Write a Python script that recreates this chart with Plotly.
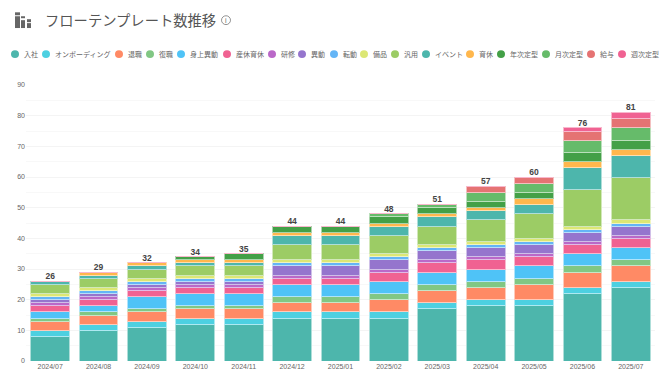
import plotly.graph_objects as go

months = ["2024/07","2024/08","2024/09","2024/10","2024/11","2024/12","2025/01","2025/02","2025/03","2025/04","2025/05","2025/06","2025/07"]
totals = [26,29,32,34,35,44,44,48,51,57,60,76,81]

nyusha    = [8,10,11,12,12,14,14,14,17,18,18,22,24]
onboard   = [2,2,2,2,2,2,2,2,2,2,2,2,2]
taishoku  = [3,3,3,3,3,3,3,4,4,4,5,5,5]
fukushoku = [1,1,1,1,1,2,2,2,2,2,2,2,2]
mishin    = [2,2,4,4,4,4,4,4,4,4,4,4,4]
sankyu    = [2,2,2,2,2,2,2,3,3,3,3,3,3]
kenshu    = [1,1,1,1,1,1,1,1,1,1,1,1,1]
ido       = [1,1,1,1,1,3,3,3,3,3,3,3,3]
tendo     = [1,1,1,1,1,1,1,1,1,1,1,1,1]
bihin     = [1,1,1,1,1,1,1,1,1,1,1,1,1]
hanyo     = [3,3,3,3,3,5,5,6,6,7,8,12,14]
event     = [1,1,1,1,1,3,3,3,3,3,3,7,7]
ikukyu    = [0,1,1,1,1,1,1,1,1,1,2,2,2]
nenji     = [0,0,0,1,2,2,2,2,2,2,2,3,3]
getsuji   = [0,0,0,0,0,0,0,1,1,3,3,4,4]
kyuyo     = [0,0,0,0,0,0,0,0,0,2,2,3,3]
shuji     = [0,0,0,0,0,0,0,0,0,0,0,1,2]

names = ["入社","オンボーディング","退職","復職","身上異動","産休育休","研修","異動","転動","備品","汎用","イベント","育休","年次定型","月次定型","給与","週次定型"]
values = [nyusha,onboard,taishoku,fukushoku,mishin,sankyu,kenshu,ido,tendo,bihin,hanyo,event,ikukyu,nenji,getsuji,kyuyo,shuji]
colors = ["#4DB6AC","#4DD0E1","#FF8A65","#81C784","#4FC3F7","#F06292","#BA68C8","#9575CD","#64B5F6","#DCE775","#9CCC65","#4DB6AC","#FFB74D","#43A047","#66BB6A","#E57373","#F06292"]
legend_x = [15,46,119,150,181,227,272,302,334,364,395,426,470,501,546,591,622]

W, H = 670, 382
L, R, T, B = 26, 15, 85, 16
FONT = "Noto Sans CJK JP, Noto Sans, sans-serif"
def light(c, a=0.55):
    r,g,b = int(c[1:3],16),int(c[3:5],16),int(c[5:7],16)
    return "rgb(%d,%d,%d)" % tuple(int(v*(1-a)+255*a) for v in (r,g,b))

fig = go.Figure()
for n,v,c in zip(names,values,colors):
    fig.add_bar(x=months,y=v,name=n,marker=dict(color=c,line=dict(color=light(c),width=1)))
fig.add_scatter(x=months,y=totals,mode="text",text=[str(t) for t in totals],textposition="top center",
                textfont=dict(size=8.5,color="#444",family="Liberation Sans, Arial",weight="bold"),cliponaxis=False)

px = lambda x: (x-L)/(W-L-R)
py = lambda y: 1-(y-T)/(H-T-B)
shapes=[]; ann=[]
for n,c,x in zip(names,colors,legend_x):
    shapes.append(dict(type="circle",xref="paper",yref="paper",x0=px(x-4),x1=px(x+4),y0=py(57.5),y1=py(49.5),fillcolor=c,line_width=0))
    ann.append(dict(text=n,xref="paper",yref="paper",x=px(x+7),y=py(53.5),xanchor="left",yanchor="middle",showarrow=False,
                    font=dict(size=7,color="#666",family=FONT)))
ann.append(dict(text="フローテンプレート数推移",xref="paper",yref="paper",x=px(43),y=py(18),xanchor="left",yanchor="middle",showarrow=False,
                font=dict(size=14.3,color="#555",family=FONT)))
ann.append(dict(text="i",xref="paper",yref="paper",x=px(226),y=py(19),xanchor="center",yanchor="middle",showarrow=False,
                font=dict(size=7,color="#666",family="Liberation Sans")))
shapes.append(dict(type="circle",xref="paper",yref="paper",x0=px(221.5),x1=px(230.5),y0=py(23.5),y1=py(14.5),line=dict(color="#777",width=0.8)))
for x0,x1,y0,y1 in [(15,20,11,14),(15,20,15,27),(21,25,15,17),(21,25,19,27),(27,31,18,21),(27,31,22,27)]:
    shapes.append(dict(type="rect",xref="paper",yref="paper",x0=px(x0),x1=px(x1),y0=py(y1),y1=py(y0),fillcolor="#666",line_width=0))

fig.update_layout(width=W,height=H,barmode="stack",bargap=0.2,showlegend=False,plot_bgcolor="white",paper_bgcolor="white",
    margin=dict(l=L,r=R,t=T,b=B),shapes=shapes,annotations=ann,
    xaxis=dict(type="category",range=[-0.5,12.5],tickfont=dict(size=7,color="#666",family="Liberation Sans"),showgrid=False,ticks="",showline=False,zeroline=False,fixedrange=True),
    yaxis=dict(range=[0,90],tick0=0,dtick=10,tickfont=dict(size=7,color="#666",family="Liberation Sans"),gridcolor="#f4f4f4",gridwidth=1,zeroline=False,
               minor=dict(dtick=5,showgrid=True,gridcolor="#f8f8f8"),ticks="",showline=False))
fig.write_html("out.html",post_script="document.body.style.margin='0';",config={"displayModeBar":False})
